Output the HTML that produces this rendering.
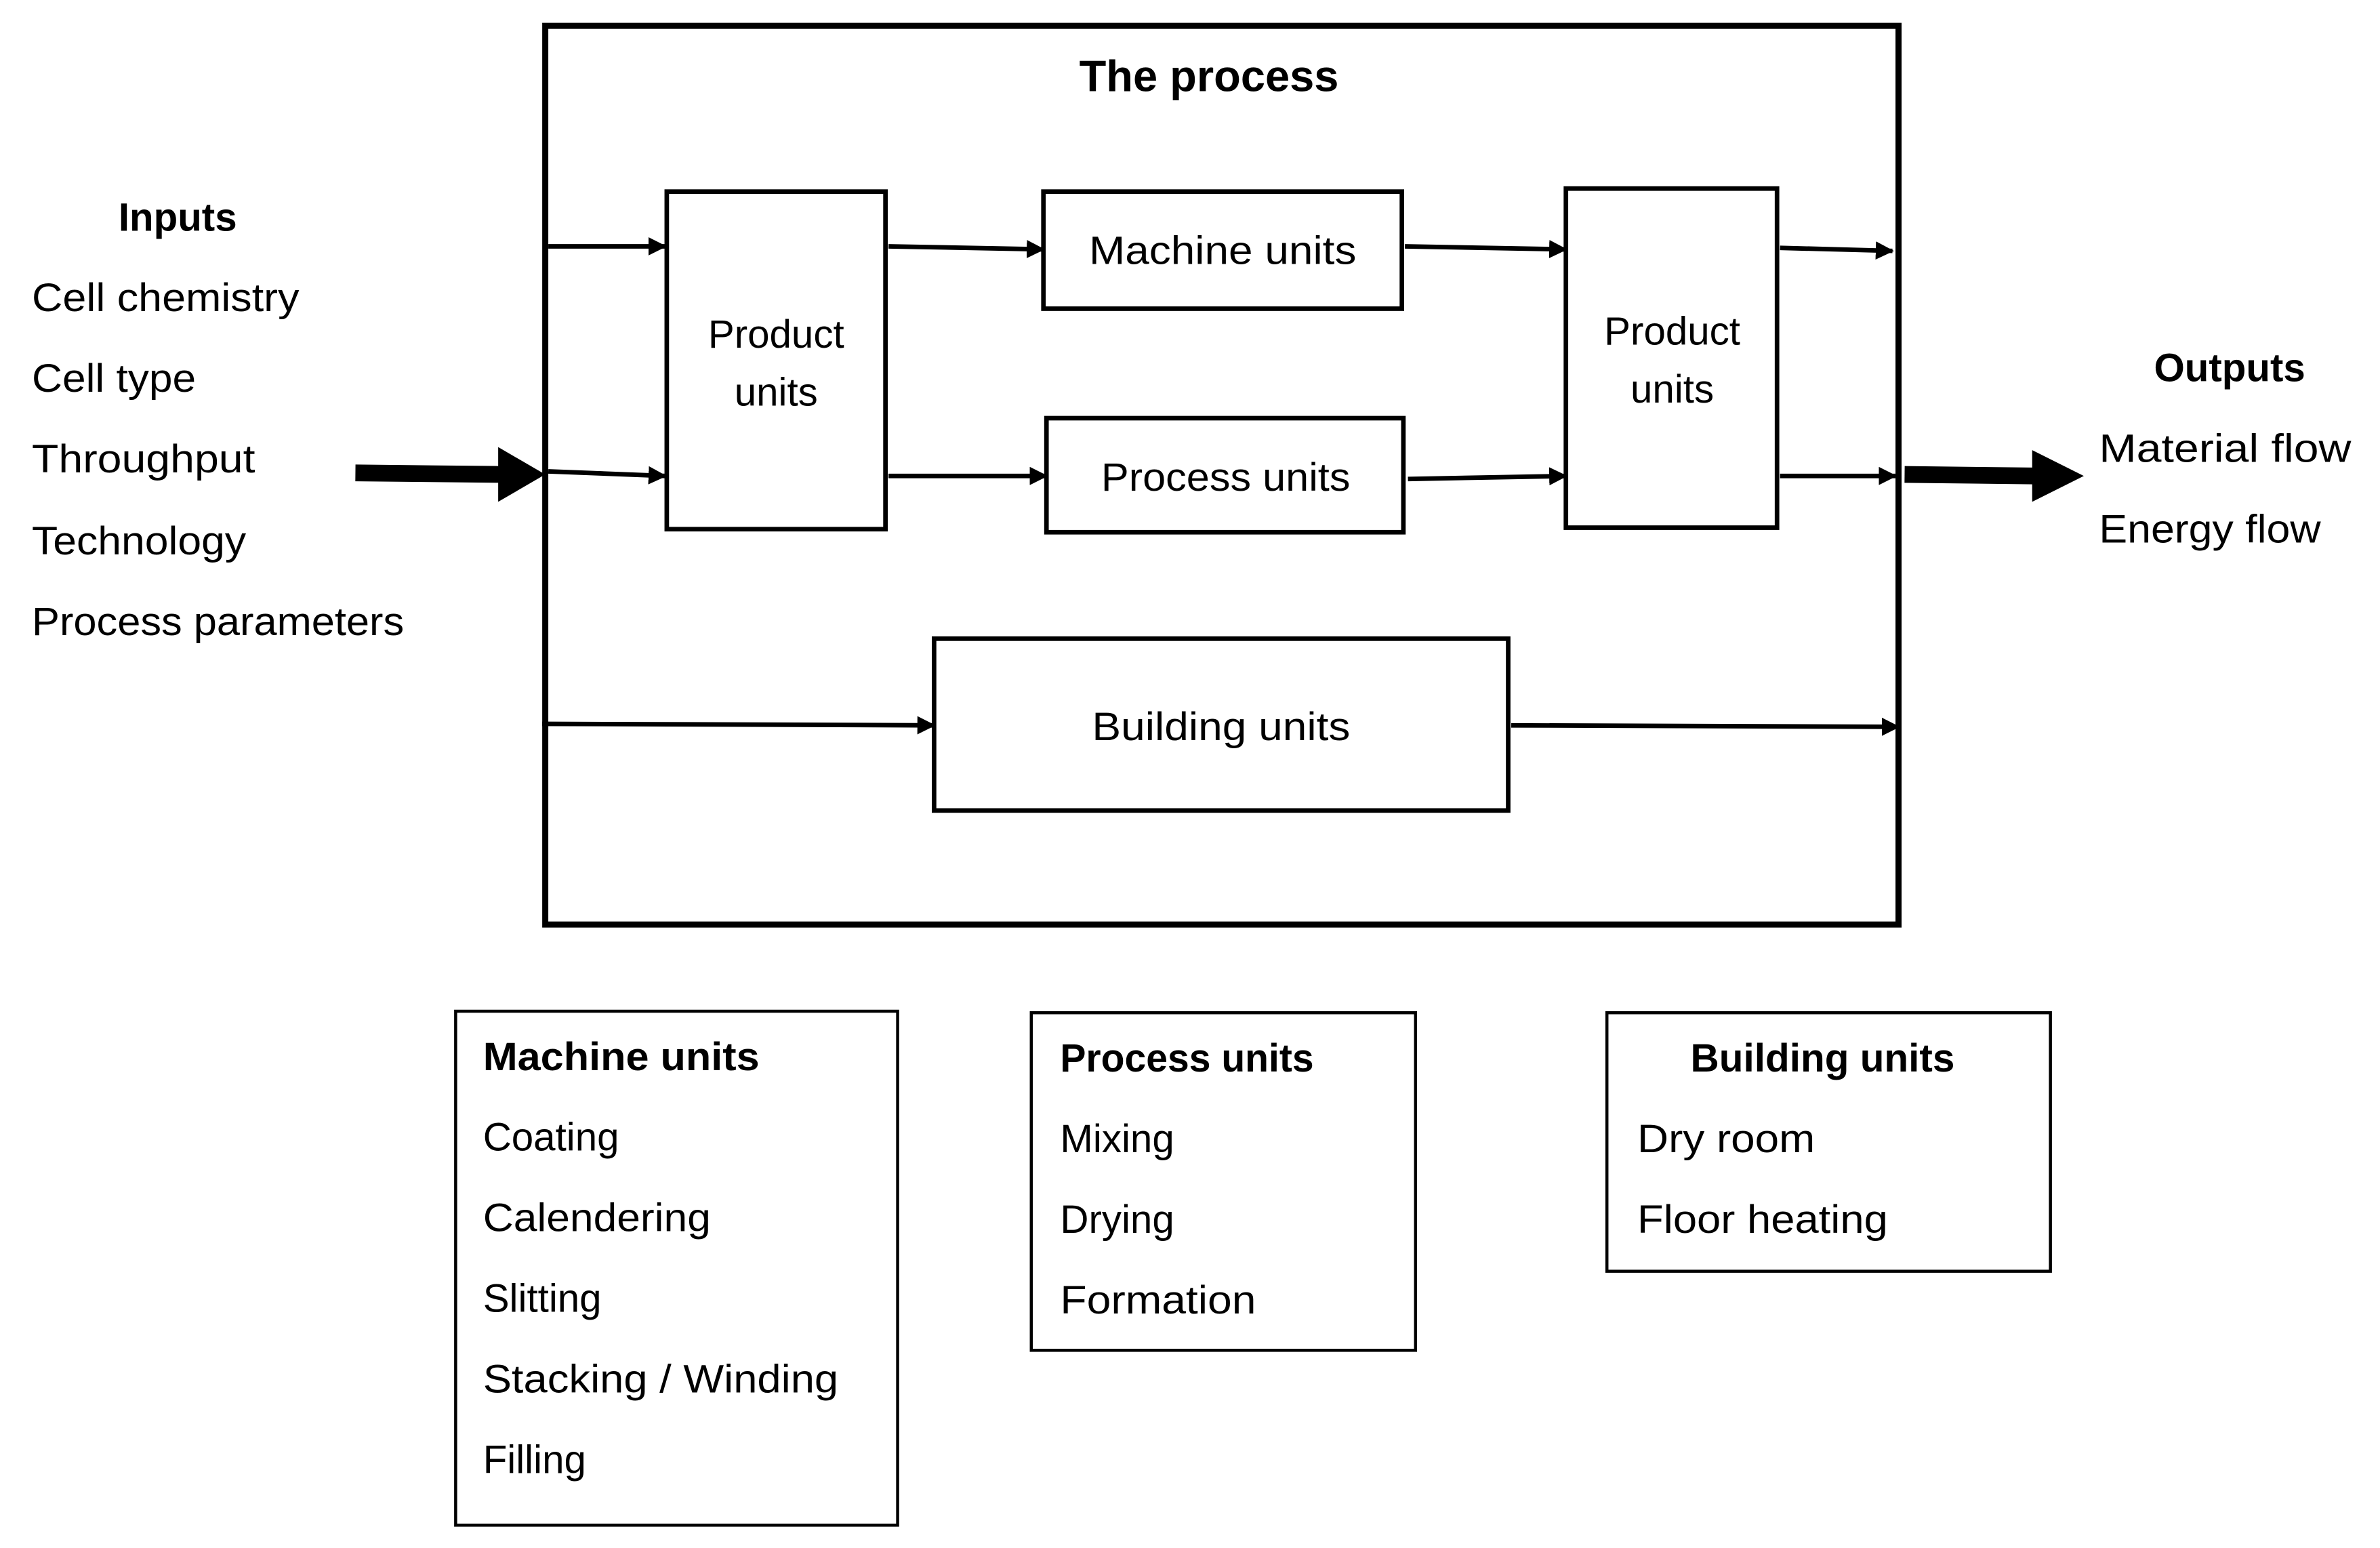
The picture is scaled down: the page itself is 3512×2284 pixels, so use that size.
<!DOCTYPE html>
<html><head><meta charset="utf-8"><style>html,body{margin:0;padding:0;background:#fff}svg{display:block}</style></head>
<body>
<svg width="3512" height="2284" viewBox="0 0 1567 1018" preserveAspectRatio="none" xmlns="http://www.w3.org/2000/svg" font-family="Liberation Sans, sans-serif" font-size="26">
<defs>
<marker id="a" markerWidth="12" markerHeight="12" refX="11" refY="6" orient="auto" markerUnits="userSpaceOnUse"><path d="M0,0 L12,6 L0,12 z" fill="#000"/></marker>
</defs>
<g fill="none" stroke="#000">
<rect x="359" y="17" width="891" height="591" stroke-width="4"/>
<rect x="439" y="126" width="144" height="222" stroke-width="3"/>
<rect x="687" y="126" width="236" height="77" stroke-width="3"/>
<rect x="689" y="275" width="235" height="75" stroke-width="3"/>
<rect x="1031" y="124" width="139" height="223" stroke-width="3"/>
<rect x="615" y="420" width="378" height="113" stroke-width="3"/>
<rect x="300" y="665" width="291" height="338" stroke-width="2"/>
<rect x="679" y="666" width="253" height="222" stroke-width="2"/>
<rect x="1058" y="666" width="292" height="170" stroke-width="2"/>
<g stroke-width="3" marker-end="url(#a)">
<line x1="361" y1="162" x2="438" y2="162"/>
<line x1="361" y1="310" x2="438" y2="313"/>
<line x1="585" y1="162" x2="687" y2="164"/>
<line x1="585" y1="313" x2="689" y2="313"/>
<line x1="925" y1="162" x2="1031" y2="164"/>
<line x1="927" y1="315" x2="1031" y2="313"/>
<line x1="1172" y1="163" x2="1246" y2="165"/>
<line x1="1172" y1="313" x2="1248" y2="313"/>
<line x1="357" y1="476" x2="615" y2="477"/>
<line x1="995" y1="477" x2="1250" y2="478"/>
</g>
<line x1="234" y1="311" x2="330" y2="312" stroke-width="11"/>
<line x1="1254" y1="312" x2="1340" y2="313" stroke-width="11"/>
</g>
<path d="M328,294 L359,312 L328,330 z" fill="#000"/>
<path d="M1338,296 L1372,313 L1338,330 z" fill="#000"/>
<g dominant-baseline="central" fill="#000">
<text x="796" y="50" font-size="29" font-weight="bold" text-anchor="middle">The process</text>
<text x="117" y="143" font-weight="bold" text-anchor="middle">Inputs</text>
<text x="21" y="196" textLength="176" lengthAdjust="spacingAndGlyphs">Cell chemistry</text>
<text x="21" y="249" textLength="108" lengthAdjust="spacingAndGlyphs">Cell type</text>
<text x="21" y="302" textLength="147" lengthAdjust="spacingAndGlyphs">Throughput</text>
<text x="21" y="356" textLength="141" lengthAdjust="spacingAndGlyphs">Technology</text>
<text x="21" y="409" textLength="245" lengthAdjust="spacingAndGlyphs">Process parameters</text>
<text x="1468" y="242" font-weight="bold" text-anchor="middle">Outputs</text>
<text x="1382" y="295" textLength="166" lengthAdjust="spacingAndGlyphs">Material flow</text>
<text x="1382" y="348" textLength="146" lengthAdjust="spacingAndGlyphs">Energy flow</text>
<g text-anchor="middle">
<text x="511" y="220">Product</text>
<text x="511" y="258">units</text>
<text x="1101" y="218">Product</text>
<text x="1101" y="256">units</text>
<text x="805" y="165" textLength="176" lengthAdjust="spacingAndGlyphs">Machine units</text>
<text x="807" y="314" textLength="164" lengthAdjust="spacingAndGlyphs">Process units</text>
<text x="804" y="478" textLength="170" lengthAdjust="spacingAndGlyphs">Building units</text>
<text x="1200" y="696" font-weight="bold" textLength="174" lengthAdjust="spacingAndGlyphs">Building units</text>
</g>
<text x="318" y="695" font-weight="bold" textLength="182" lengthAdjust="spacingAndGlyphs">Machine units</text>
<text x="318" y="748">Coating</text>
<text x="318" y="801" textLength="150" lengthAdjust="spacingAndGlyphs">Calendering</text>
<text x="318" y="854">Slitting</text>
<text x="318" y="907" textLength="234" lengthAdjust="spacingAndGlyphs">Stacking / Winding</text>
<text x="318" y="960">Filling</text>
<text x="698" y="696" font-weight="bold" textLength="167" lengthAdjust="spacingAndGlyphs">Process units</text>
<text x="698" y="749">Mixing</text>
<text x="698" y="802">Drying</text>
<text x="698" y="855" textLength="129" lengthAdjust="spacingAndGlyphs">Formation</text>
<text x="1078" y="749" textLength="117" lengthAdjust="spacingAndGlyphs">Dry room</text>
<text x="1078" y="802" textLength="165" lengthAdjust="spacingAndGlyphs">Floor heating</text>
</g>
</svg>
</body></html>
